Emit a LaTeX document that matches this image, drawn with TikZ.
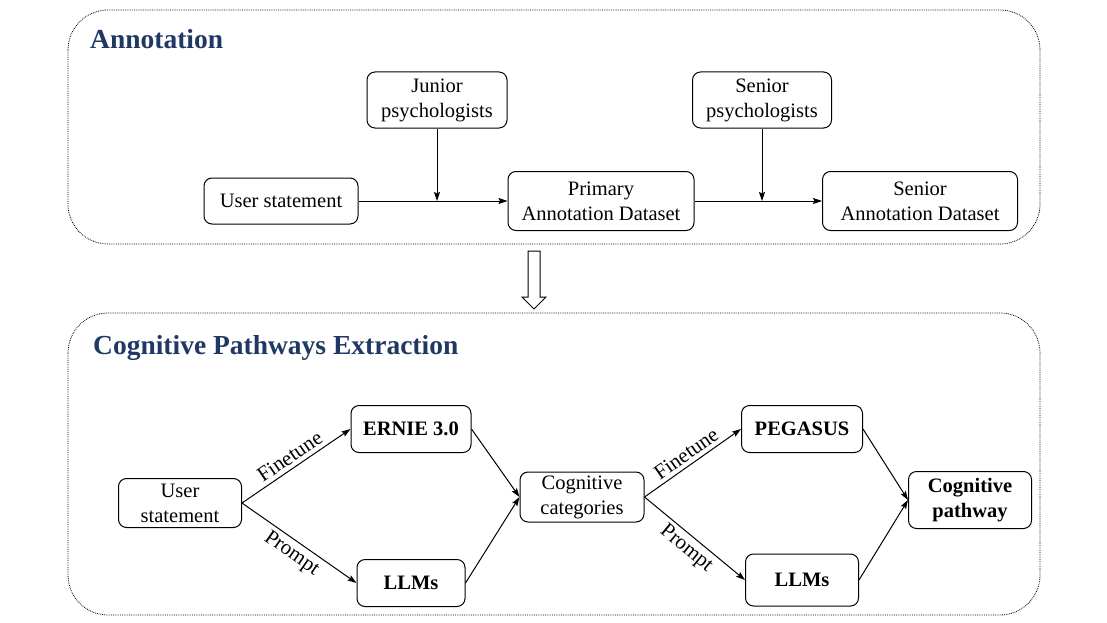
\documentclass[tikz,border=0pt]{standalone}
\usepackage{fontspec}
\setmainfont{Liberation Serif}
\usetikzlibrary{positioning, arrows.meta}
\definecolor{titleblue}{RGB}{31,56,100}

\begin{document}
\begin{tikzpicture}[x=1pt,y=-1pt,>={Stealth[length=9pt,width=6pt,inset=1.5pt]},on grid]
\tikzstyle{box}=[draw,rounded corners=8pt,align=center,line width=1pt,inner sep=0pt,font=\fontsize{20.5}{25}\selectfont]
\tikzstyle{bbox}=[box,font=\fontsize{20.5}{25}\selectfont\bfseries]
\tikzstyle{frame}=[draw,densely dotted,rounded corners=40pt,line width=0.8pt]
\tikzstyle{title}=[anchor=west,text=titleblue,inner sep=0pt,font=\fontsize{27.5}{30}\selectfont\bfseries]
\tikzstyle{lbl}=[sloped,inner sep=4pt,font=\fontsize{21}{25}\selectfont]

\useasboundingbox (0,0) rectangle (1107,623);

%-- Frames --
\draw[frame] (68,10) rectangle (1040,244);
\draw[frame] (68,313) rectangle (1040,615);
\node[title] (annot) at (90,39) {Annotation};
\node[title] (cpe) at (93,348) {Cognitive Pathways Extraction};

%-- Annotation nodes --
\node[box, minimum width=154pt, minimum height=46pt] (us) at (281,201) {User statement};
\node[box, minimum width=186pt, minimum height=59pt] (prim) [right=320pt of us] {Primary\\Annotation Dataset};
\node[box, minimum width=195pt, minimum height=59pt] (senann) [right=319pt of prim] {Senior\\Annotation Dataset};
\node[box, minimum width=140pt, minimum height=56pt] (jun) [above right=101pt and 156pt of us] {Junior\\psychologists};
\node[box, minimum width=139pt, minimum height=56pt] (senpsy) [above right=101pt and 161pt of prim] {Senior\\psychologists};

%-- Hollow arrow between the stages --
\draw[line width=1pt] (528,251) -- (540,251) -- (540,297) -- (546,297)
  -- (534,309) -- (522,297) -- (528,297) -- cycle;

%-- Extraction nodes --
\node[box, minimum width=123pt, minimum height=49pt] (us2) at (180,503) {User\\statement};
\node[bbox, minimum width=120pt, minimum height=47pt] (ernie) [above right=74pt and 231pt of us2] {ERNIE 3.0};
\node[bbox, minimum width=108pt, minimum height=47pt] (llm1) [below=154pt of ernie] {LLMs};
\node[box, minimum width=124pt, minimum height=50pt] (cogcat) [above right=6pt and 402pt of us2] {Cognitive\\categories};
\node[bbox, minimum width=121pt, minimum height=47pt] (pegasus) [right=391pt of ernie] {PEGASUS};
\node[bbox, minimum width=113pt, minimum height=52pt] (llm2) [below=151pt of pegasus] {LLMs};
\node[bbox, minimum width=123pt, minimum height=57pt] (cogpath) [below right=3pt and 388pt of cogcat] {Cognitive\\pathway};

%-- Transitions --
\path[->, line width=1pt]
  % annotation
  (us) edge (prim)
  (jun) edge (jun |- us.east)
  (prim) edge (senann)
  (senpsy) edge (senpsy |- prim.east)

  % user statement
  (us2.east) edge node[lbl, above] {Finetune} (ernie.west)
  (us2.east) edge node[lbl, below] {Prompt} (llm1.west)

  % cognitive categories
  (ernie.east) edge (cogcat.west)
  (llm1.east) edge (cogcat.west)
  (cogcat.east) edge node[lbl, above] {Finetune} (pegasus.west)
  (cogcat.east) edge node[lbl, below] {Prompt} (llm2.west)

  % cognitive pathway
  (pegasus.east) edge (cogpath.west)
  (llm2.east) edge (cogpath.west);

\end{tikzpicture}
\end{document}
